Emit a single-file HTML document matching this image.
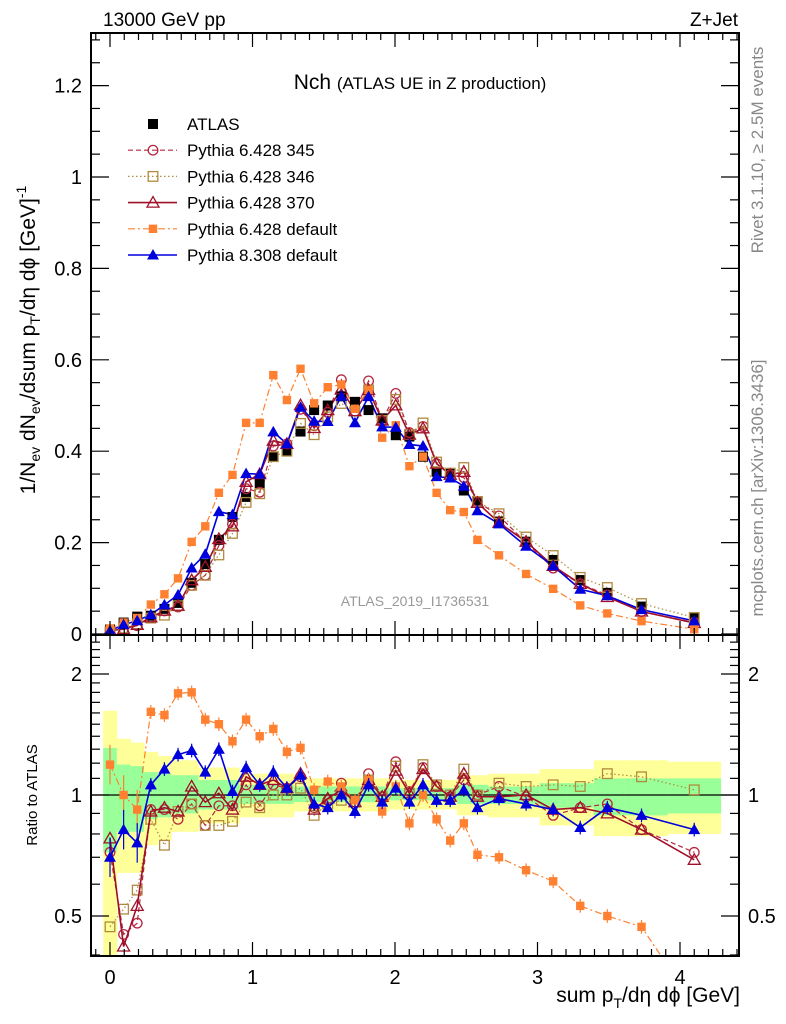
<!DOCTYPE html>
<html><head><meta charset="utf-8"><style>
html,body{margin:0;padding:0;background:#fff;}
svg{display:block;font-family:"Liberation Sans",sans-serif;}
</style></head><body>
<svg id="chart" width="786" height="1024" viewBox="0 0 786 1024" xmlns="http://www.w3.org/2000/svg">
<defs>
<clipPath id="clipMain"><rect x="91" y="33" width="648" height="602"/></clipPath>
<clipPath id="clipRatio"><rect x="91" y="635" width="648" height="321"/></clipPath>
</defs>
<text x="103" y="26" font-size="19">13000 GeV pp</text>
<text x="738" y="26" font-size="19" text-anchor="end">Z+Jet</text>
<text x="420" y="89" font-size="21" text-anchor="middle">Nch <tspan font-size="17">(ATLAS UE in Z production)</tspan></text>
<text transform="translate(763,150) rotate(-90)" font-size="17" fill="#888" text-anchor="middle">Rivet 3.1.10, ≥ 2.5M events</text>
<text transform="translate(763,488) rotate(-90)" font-size="17" fill="#888" text-anchor="middle">mcplots.cern.ch [arXiv:1306.3436]</text>
<text x="415" y="606" font-size="14" fill="#999" text-anchor="middle">ATLAS_2019_I1736531</text>
<text transform="translate(35,340) rotate(-90)" font-size="21" text-anchor="middle">1/N<tspan font-size="14" dy="5">ev</tspan><tspan dy="-5"> dN</tspan><tspan font-size="14" dy="5">ev</tspan><tspan dy="-5">/dsum p</tspan><tspan font-size="14" dy="5">T</tspan><tspan dy="-5">/dη dϕ  [GeV]</tspan><tspan font-size="14" dy="-9">-1</tspan></text>
<text transform="translate(37,795) rotate(-90)" font-size="15" text-anchor="middle">Ratio to ATLAS</text>
<text x="740" y="1002" font-size="21" text-anchor="end">sum p<tspan font-size="14" dy="6">T</tspan><tspan dy="-6">/dη dϕ [GeV]</tspan></text>
<g id="bands" clip-path="url(#clipRatio)"></g>
<g id="ratioLayer" clip-path="url(#clipRatio)"></g>
<g id="mainLayer" clip-path="url(#clipMain)"></g>
<g id="axes"></g>
<g id="legend"></g>
</svg>
<script>
const xs = [0,0.0955,0.191,0.2865,0.382,0.4775,0.573,0.6685,0.764,0.8595,0.955,1.0505,1.146,1.2415,1.337,1.4325,1.528,1.6235,1.719,1.8145,1.91,2.0055,2.101,2.1965,2.292,2.3875,2.483,2.5785,2.73,2.92,3.11,3.30,3.49,3.73,4.10];
const atlas = [0.010,0.025,0.038,0.040,0.055,0.068,0.112,0.153,0.206,0.256,0.300,0.330,0.388,0.400,0.443,0.490,0.500,0.520,0.508,0.490,0.472,0.435,0.432,0.388,0.355,0.352,0.314,0.290,0.246,0.202,0.162,0.118,0.090,0.060,0.035];
const r345 = [0.72,0.45,0.48,0.92,0.92,0.87,0.95,0.84,0.94,0.94,1.06,0.94,1.06,1.04,1.11,0.93,0.97,1.07,0.96,1.13,0.99,1.21,1.02,1.17,1.05,0.99,1.09,1.00,1.05,0.99,0.89,0.93,0.95,0.82,0.72];
const r346 = [0.47,0.52,0.58,0.87,0.75,0.91,0.95,0.84,0.84,0.86,0.96,0.93,1.00,1.00,1.04,0.89,0.95,0.97,0.96,1.09,0.99,1.18,1.01,1.19,1.06,1.00,1.16,1.00,1.07,1.05,1.06,1.05,1.13,1.11,1.03];
const r370 = [0.78,0.42,0.53,0.91,0.93,0.91,1.05,0.96,1.01,0.92,1.11,1.06,1.09,1.04,1.13,0.92,0.98,1.03,0.96,1.09,0.99,1.15,1.01,1.16,1.05,0.99,1.13,0.99,0.99,1.00,0.92,0.93,0.90,0.82,0.69];
const rDef6 = [1.19,1.00,0.92,1.61,1.58,1.79,1.80,1.54,1.50,1.36,1.54,1.40,1.46,1.28,1.31,1.03,1.08,1.05,0.97,1.09,0.91,1.05,0.85,1.00,0.87,0.77,0.85,0.71,0.70,0.65,0.61,0.53,0.50,0.47,0.30];
const rPy8 = [0.70,0.82,0.76,1.06,1.16,1.26,1.29,1.14,1.30,1.02,1.17,1.06,1.14,1.04,1.12,0.95,0.93,1.00,0.91,1.06,0.96,1.04,0.96,1.06,0.97,0.97,1.03,0.93,0.98,0.95,0.92,0.83,0.93,0.89,0.82];
const yelUp = [1.62,1.38,1.35,1.28,1.25,1.22,1.22,1.17,1.17,1.17,1.13,1.13,1.13,1.13,1.10,1.10,1.10,1.10,1.10,1.10,1.10,1.09,1.09,1.09,1.09,1.09,1.12,1.12,1.13,1.13,1.16,1.16,1.22,1.22,1.21];
const yelLo = [0.35,0.64,0.64,0.75,0.77,0.81,0.81,0.85,0.85,0.85,0.88,0.88,0.88,0.88,0.91,0.91,0.91,0.91,0.91,0.91,0.91,0.92,0.92,0.92,0.92,0.92,0.89,0.89,0.88,0.88,0.84,0.84,0.79,0.79,0.80];
const grnUp = [1.31,1.19,1.18,1.14,1.13,1.12,1.12,1.09,1.09,1.09,1.06,1.06,1.06,1.06,1.05,1.05,1.05,1.05,1.05,1.05,1.05,1.04,1.04,1.04,1.04,1.04,1.06,1.06,1.05,1.05,1.07,1.07,1.10,1.10,1.10];
const grnLo = [0.72,0.81,0.81,0.87,0.88,0.90,0.90,0.92,0.92,0.92,0.95,0.95,0.95,0.95,0.96,0.96,0.96,0.96,0.96,0.96,0.96,0.97,0.97,0.97,0.97,0.97,0.95,0.95,0.95,0.95,0.93,0.93,0.89,0.89,0.90];
const mainTicks = ["0","0.2","0.4","0.6","0.8","1","1.2"];
const xTickLabels = ["0","1","2","3","4"];

const NS="http://www.w3.org/2000/svg";
const X0=91,X1=739,YT=33,YM=635,YB=956;
function sx(v){return 110+v*142.5;}
function sy(v){return 634-v*457;}
function ry(r){return 795-174.6*Math.log(r);}
function mk(tag,attrs,parent){const e=document.createElementNS(NS,tag);for(const k in attrs)e.setAttribute(k,attrs[k]);parent.appendChild(e);return e;}
const axes=document.getElementById('axes'),mainL=document.getElementById('mainLayer'),ratioL=document.getElementById('ratioLayer'),bandsL=document.getElementById('bands'),legend=document.getElementById('legend');

function edges(i){const l=i==0?xs[0]-(xs[1]-xs[0])/2:(xs[i-1]+xs[i])/2;const r=i==xs.length-1?xs[i]+(xs[i]-xs[i-1])/2:(xs[i]+xs[i+1])/2;return [l,r];}
for(let i=0;i<xs.length;i++){const [l,r]=edges(i);
 const y=mk('rect',{x:sx(l),y:ry(yelUp[i]),width:sx(r)-sx(l)+0.5,height:ry(yelLo[i])-ry(yelUp[i]),fill:'#ffff99'},bandsL);
 
 
 const g=mk('rect',{x:sx(l),y:ry(grnUp[i]),width:sx(r)-sx(l)+0.5,height:ry(grnLo[i])-ry(grnUp[i]),fill:'#99ff99'},bandsL);
 
 
}
const one=mk('line',{x1:X0,x2:X1,y1:ry(1),y2:ry(1),stroke:'#000','stroke-width':1.3},ratioL);



const series=[
 {name:'pythia6-345',r:r345,col:'#b5263f',dash:'5,3',mark:'circle',w:1.2},
 {name:'pythia6-346',r:r346,col:'#b08a3e',dash:'1.5,2.5',mark:'osquare',w:1.2},
 {name:'pythia6-370',r:r370,col:'#a0102a',dash:'',mark:'otri',w:1.6},
 {name:'pythia6-default',r:rDef6,col:'#ff8030',dash:'7,3,2,3',mark:'fsquare',w:1.2},
 {name:'pythia8-default',r:rPy8,col:'#0000dd',dash:'',mark:'ftri',w:1.6}
];
function marker(type,x,y,col,parent,name){let e;
 if(type=='circle')e=mk('circle',{cx:x,cy:y,r:4.8,fill:'none',stroke:col,'stroke-width':1.3},parent);
 else if(type=='osquare')e=mk('rect',{x:x-4.8,y:y-4.8,width:9.6,height:9.6,fill:'none',stroke:col,'stroke-width':1.3},parent);
 else if(type=='fsquare')e=mk('rect',{x:x-4.2,y:y-4.2,width:8.4,height:8.4,fill:col},parent);
 else if(type=='bsquare')e=mk('rect',{x:x-5,y:y-5,width:10,height:10,fill:col},parent);
 else if(type=='otri')e=mk('path',{d:`M${x},${y-6}L${x+6},${y+4.5}L${x-6},${y+4.5}Z`,fill:'none',stroke:col,'stroke-width':1.3},parent);
 else e=mk('path',{d:`M${x},${y-6}L${x+6},${y+4.5}L${x-6},${y+4.5}Z`,fill:col},parent);
 
 
 return e;}

series.forEach(s=>{
 const vals=atlas.map((a,i)=>a*s.r[i]);
 const pl=mk('polyline',{points:xs.map((x,i)=>sx(x)+','+sy(vals[i])).join(' '),fill:'none',stroke:s.col,'stroke-width':s.w,'stroke-dasharray':s.dash},mainL);
 
 
});
atlas.forEach((a,i)=>marker('bsquare',sx(xs[i]),sy(a),'#000',mainL,'atlas-point'));
series.forEach(s=>{atlas.forEach((a,i)=>marker(s.mark,sx(xs[i]),sy(a*s.r[i]),s.col,mainL,s.name+'-point'));});

series.forEach(s=>{
 const pl=mk('polyline',{points:xs.map((x,i)=>sx(x)+','+ry(s.r[i])).join(' '),fill:'none',stroke:s.col,'stroke-width':s.w,'stroke-dasharray':s.dash},ratioL);
 
 
 s.r.forEach((r,i)=>{
  if(s.mark=='fsquare'||s.mark=='ftri'){const err=i<3?0.12:0.04;
   const eb=mk('line',{x1:sx(xs[i]),x2:sx(xs[i]),y1:ry(r*(1+err)),y2:ry(r/(1+err)),stroke:s.col,'stroke-width':1.2},ratioL);
   
   }
  marker(s.mark,sx(xs[i]),ry(r),s.col,ratioL,s.name+'-ratio-point');});
});

const f1=mk('rect',{x:X0,y:YT,width:X1-X0,height:YM-YT,fill:'none',stroke:'#000','stroke-width':2},axes);


const f2=mk('rect',{x:X0,y:YM,width:X1-X0,height:YB-YM,fill:'none',stroke:'#000','stroke-width':2},axes);


function tk(x1,y1,x2,y2){mk('line',{x1,y1,x2,y2,stroke:'#000','stroke-width':1.2},axes);}
for(let k=-1;k<=44;k++){const v=k/10;const x=sx(v);if(x<X0||x>X1)continue;const L=k%10==0?14:7;
 tk(x,YT,x,YT+L);tk(x,YM,x,YM-L);tk(x,YM,x,YM+L);tk(x,YB,x,YB-L);}
xTickLabels.forEach((t,i)=>{const e=mk('text',{x:sx(+t),y:984,'font-size':20,'text-anchor':'middle'},axes);e.textContent=t;
 
 });
for(let k=0;k<=26;k++){const v=k*0.05;const y=sy(v);if(y<YT)continue;const L=k%4==0?18:9;tk(X0,y,X0+L,y);tk(X1,y,X1-L,y);}
mainTicks.forEach(t=>{const e=mk('text',{x:82,y:sy(+t)+7,'font-size':20,'text-anchor':'end'},axes);e.textContent=t;
 
 });
[0.4,0.5,0.6,0.7,0.8,0.9,1,1.1,1.2,1.3,1.4,1.5,1.6,1.7,1.8,1.9,2,2.1,2.2,2.3,2.4].forEach(v=>{const y=ry(v);if(y<YM||y>YB)return;const L=(v==0.5||v==1||v==2)?18:9;tk(X0,y,X0+L,y);tk(X1,y,X1-L,y);});
["0.5","1","2"].forEach(t=>{const y=ry(+t)+7;
 const a=mk('text',{x:82,y,'font-size':20,'text-anchor':'end'},axes);a.textContent=t;
 
 
 const b=mk('text',{x:748,y,'font-size':20},axes);b.textContent=t;
 
 });

const leg=[
 {label:'ATLAS',mark:'bsquare',col:'#000',dash:null,w:0},
 {label:'Pythia 6.428 345',mark:'circle',col:'#b5263f',dash:'5,3',w:1.2},
 {label:'Pythia 6.428 346',mark:'osquare',col:'#b08a3e',dash:'1.5,2.5',w:1.2},
 {label:'Pythia 6.428 370',mark:'otri',col:'#a0102a',dash:'',w:1.6},
 {label:'Pythia 6.428 default',mark:'fsquare',col:'#ff8030',dash:'7,3,2,3',w:1.2},
 {label:'Pythia 8.308 default',mark:'ftri',col:'#0000dd',dash:'',w:1.6}
];
leg.forEach((l,i)=>{const y=124+i*26.2;
 if(l.dash!==null){const ln=mk('line',{x1:128,x2:177,y1:y,y2:y,stroke:l.col,'stroke-width':l.w,'stroke-dasharray':l.dash},legend);
  
  }
 marker(l.mark,153,y,l.col,legend,'legend-marker');
 const t=mk('text',{x:187,y:y+6,'font-size':17},legend);t.textContent=l.label;
 
 
});
</script>
</body></html>
